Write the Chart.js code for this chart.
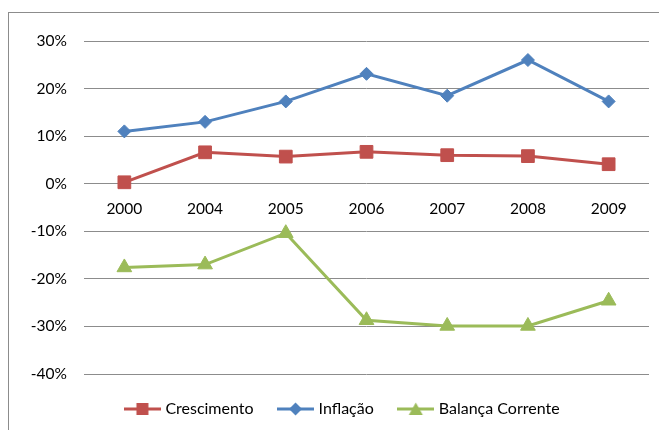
<!DOCTYPE html>
<html>
<head>
<meta charset="utf-8">
<script src="https://cdn.jsdelivr.net/npm/chart.js@4.4.1/dist/chart.umd.min.js"></script>
<style>
  body { margin: 0; background: #fff; }
  #moldura {
    position: absolute; left: 8px; top: 12px; width: 700px; height: 500px;
    border-left: 1px solid #8c8c8c; border-top: 1px solid #8c8c8c;
  }
  #grafico { position: absolute; left: 0; top: 0; }
</style>
</head>
<body>
<div id="moldura"></div>
<canvas id="grafico" width="659" height="430"></canvas>
<script>
const anos = ["2000", "2004", "2005", "2006", "2007", "2008", "2009"];
const crescimento = [0.3, 6.6, 5.7, 6.7, 6.0, 5.8, 4.1];
const inflacao = [11.0, 13.0, 17.3, 23.1, 18.5, 26.0, 17.3];
const balancaCorrente = [-17.6, -17.0, -10.4, -28.7, -29.9, -29.9, -24.6];
const marcasEixoY = [-40, -30, -20, -10, 0, 10, 20, 30];

const fonte = "Lato, 'DejaVu Sans', sans-serif";

// icone da legenda: linha com o marcador no meio
function iconeLegenda(cor, estilo) {
  const c = document.createElement("canvas");
  c.width = 37;
  c.height = 14;
  const g = c.getContext("2d");
  g.strokeStyle = cor;
  g.lineWidth = 3;
  g.beginPath();
  g.moveTo(0, 7);
  g.lineTo(37, 7);
  g.stroke();
  g.fillStyle = cor;
  g.beginPath();
  if (estilo == "rect") {
    g.rect(12.5, 1, 12, 12);
  } else if (estilo == "rectRot") {
    g.moveTo(18.5, 0.5); g.lineTo(25, 7); g.lineTo(18.5, 13.5); g.lineTo(12, 7);
  } else {
    g.moveTo(18.5, 0.5); g.lineTo(25.5, 13); g.lineTo(11.5, 13);
  }
  g.closePath();
  g.fill();
  return c;
}

const series = [
  { label: "Crescimento", data: crescimento, cor: "#C0504D", estilo: "rect", raio: 9 },
  { label: "Inflação", data: inflacao, cor: "#4F81BD", estilo: "rectRot", raio: 6.5 },
  { label: "Balança Corrente", data: balancaCorrente, cor: "#9BBB59", estilo: "triangle", raio: 8.5 },
];
const icones = series.map(s => iconeLegenda(s.cor, s.estilo));

// empurra a legenda um pouco para a direita, como no Excel
const deslocaLegenda = {
  id: "deslocaLegenda",
  afterLayout(chart) {
    chart.legend.left += 18;
    chart.legend.right += 18;
  },
};

const ctx = document.getElementById("grafico").getContext("2d");
let myChart = new Chart(ctx, {
  type: "line",
  data: {
    labels: anos,
    datasets: series.map(s => ({
      label: s.label,
      data: s.data,
      borderColor: s.cor,
      backgroundColor: s.cor,
      borderWidth: 3,
      tension: 0,
      pointStyle: s.estilo,
      pointRadius: s.raio,
      pointHoverRadius: s.raio,
      pointBorderWidth: 1,
      pointBorderColor: s.cor,
      pointBackgroundColor: s.cor,
    })),
  },
  plugins: [deslocaLegenda],
  options: {
    responsive: false,
    animation: false,
    layout: {
      padding: { top: 41, left: 0, right: 8, bottom: 3 },
    },
    scales: {
      x: {
        position: { y: 0 },
        offset: true,
        grid: { display: false, drawTicks: false, offset: true },
        border: { display: false },
        ticks: {
          color: "#000",
          padding: 16,
          maxRotation: 0,
          font: { family: fonte, size: 15.5 },
        },
      },
      y: {
        min: -40,
        max: 30,
        afterFit: (scale) => { scale.width = 84; },
        afterBuildTicks: (scale) => { scale.ticks = marcasEixoY.map(v => ({ value: v })); },
        grid: { color: "#8c8c8c", lineWidth: 1, drawTicks: false },
        border: { display: false },
        ticks: {
          color: "#000",
          padding: 17,
          font: { family: fonte, size: 15.5 },
          callback: (v) => v + "%",
        },
      },
    },
    plugins: {
      tooltip: { enabled: false },
      legend: {
        position: "bottom",
        labels: {
          usePointStyle: true,
          pointStyleWidth: 30,
          padding: 27,
          color: "#000",
          font: { family: fonte, size: 16 },
          generateLabels: (chart) =>
            Chart.defaults.plugins.legend.labels.generateLabels(chart).map((l, i) => ({
              ...l,
              pointStyle: icones[i],
            })),
        },
      },
    },
  },
});
</script>
</body>
</html>
